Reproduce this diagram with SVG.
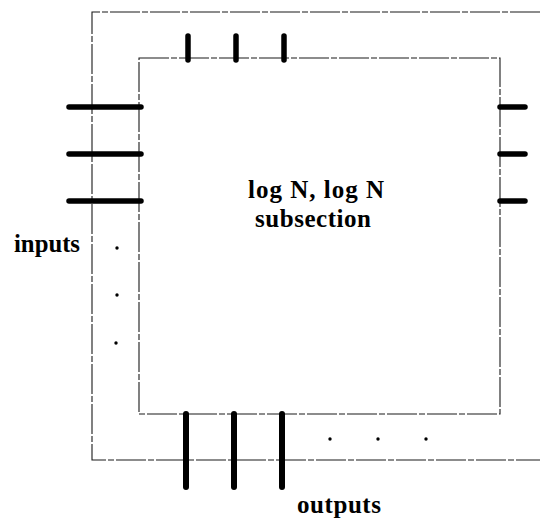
<svg xmlns="http://www.w3.org/2000/svg" width="540" height="521" viewBox="0 0 540 521">
<defs>
<style>
.thin{fill:none;stroke:#1a1a1a;stroke-width:1.1;stroke-dasharray:30 2 6 2}
.stub{fill:none;stroke:#000;stroke-width:5.5;stroke-linecap:round}
.dot{fill:#000}
.lbl{font-family:"Liberation Serif","Times New Roman",serif;font-weight:bold;font-size:25px;fill:#000}
</style>
</defs>
<rect width="540" height="521" fill="#fff"/>
<g id="outer-frame">
<path class="thin" d="M540,12 H92 V460 H540"/>
</g>
<g id="subsection">
<rect class="thin" x="139" y="58" width="361" height="356"/>
<text class="lbl" x="316" y="198" text-anchor="middle" textLength="136" lengthAdjust="spacing">log N, log N</text>
<text class="lbl" x="313" y="227" text-anchor="middle" textLength="116" lengthAdjust="spacing">subsection</text>
</g>
<g id="connectors">
<line class="stub" x1="188" y1="36" x2="188" y2="60"/>
<line class="stub" x1="236" y1="36" x2="236" y2="60"/>
<line class="stub" x1="284" y1="36" x2="284" y2="60"/>
<line class="stub" x1="69" y1="107" x2="141" y2="107"/>
<line class="stub" x1="69" y1="154" x2="141" y2="154"/>
<line class="stub" x1="69" y1="201" x2="141" y2="201"/>
<line class="stub" x1="500" y1="107" x2="525" y2="107"/>
<line class="stub" x1="500" y1="154" x2="525" y2="154"/>
<line class="stub" x1="500" y1="201" x2="525" y2="201"/>
<line class="stub" x1="186" y1="414" x2="186" y2="487" style="stroke-width:6"/>
<line class="stub" x1="234" y1="414" x2="234" y2="487" style="stroke-width:6"/>
<line class="stub" x1="282" y1="414" x2="282" y2="487" style="stroke-width:6"/>
</g>
<g id="ellipsis-inputs">
<circle class="dot" cx="117" cy="248" r="1.7"/>
<circle class="dot" cx="117" cy="295" r="1.7"/>
<circle class="dot" cx="116" cy="343" r="1.7"/>
</g>
<g id="ellipsis-outputs">
<circle class="dot" cx="330" cy="439" r="1.7"/>
<circle class="dot" cx="378" cy="439" r="1.7"/>
<circle class="dot" cx="426" cy="439" r="1.7"/>
</g>
<g id="inputs-label">
<text class="lbl" x="14" y="252" textLength="66" lengthAdjust="spacingAndGlyphs">inputs</text>
</g>
<g id="outputs-label">
<text class="lbl" x="297" y="513" textLength="84" lengthAdjust="spacing">outputs</text>
</g>
</svg>
